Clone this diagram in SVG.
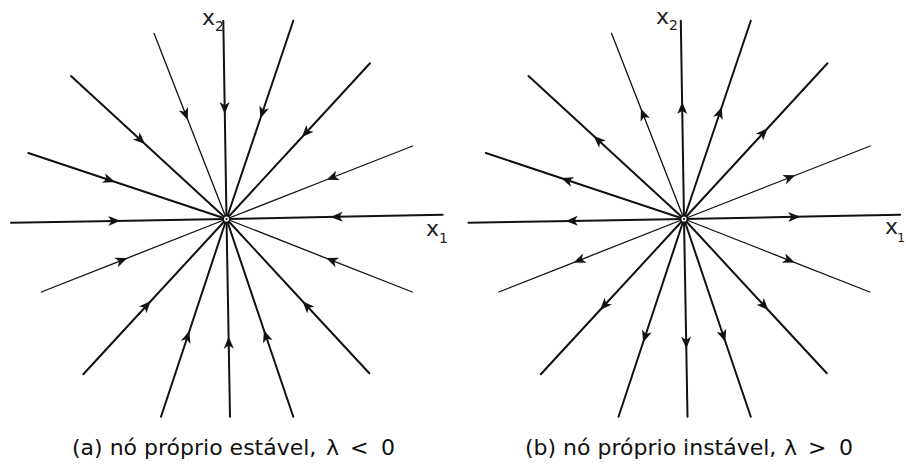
<svg xmlns="http://www.w3.org/2000/svg" width="906" height="465" viewBox="0 0 906 465">
<style>
.tr{fill:none;stroke:#111;stroke-width:2;stroke-linecap:round;marker-mid:url(#ah)}
.tn{stroke-width:1.3}
.ax{font-family:"DejaVu Sans","Liberation Sans",sans-serif;fill:#222}
.cap{font-family:"DejaVu Sans","Liberation Sans",sans-serif;font-size:22px;fill:#111}
.ring{fill:#fff;stroke:#111;stroke-width:1.5}
</style>
<defs>
<marker id="ah" markerUnits="userSpaceOnUse" markerWidth="14" markerHeight="12" refX="6" refY="5" orient="auto" overflow="visible">
<path d="M0,0 L12,5 L0,10 L3.2,5 Z" fill="#111"/>
</marker>
</defs>
<rect width="906" height="465" fill="#fff"/>

<g id="panel-a">
<g id="connectors-a">
<path class="tr" d="M223.3,20.7 L224.7,108 L226.5,219"/>
<path class="tr tn" d="M154,33.3 L185.6,114.3 L226.5,219"/>
<path class="tr" d="M71,76 L140.6,140 L226.5,219"/>
<path class="tr" d="M28.3,153 L109.3,180 L226.5,219"/>
<path class="tr" d="M11,222.7 L114.3,220.9 L226.5,219"/>
<path class="tr tn" d="M41.3,292 L121.7,260.3 L226.5,219"/>
<path class="tr" d="M83.3,374.3 L146.7,305.5 L226.5,219"/>
<path class="tr" d="M161,416.7 L187.5,336.7 L226.5,219"/>
<path class="tr" d="M230,416.7 L228.7,342.7 L226.5,219"/>
<path class="tr" d="M293.3,416.7 L265.9,336 L226.5,219"/>
<path class="tr" d="M369.3,373.3 L306.7,305.7 L226.5,219"/>
<path class="tr tn" d="M412.3,292 L331.7,260.3 L226.5,219"/>
<path class="tr" d="M442.7,214.7 L336.7,216.8 L226.5,219"/>
<path class="tr tn" d="M412.7,146 L332.3,177.5 L226.5,219"/>
<path class="tr" d="M370,63.3 L306,132.7 L226.5,219"/>
<path class="tr" d="M293.3,20.7 L262.3,112.7 L226.5,219"/>
</g>
<g id="node-a">
<circle class="ring" cx="226.5" cy="219" r="3.3"/>
<circle cx="226.5" cy="219" r="1.1" fill="#111"/>
</g>
<g id="labels-a">
<text class="ax" x="202" y="25" font-size="22">x<tspan font-size="14" x="215" y="31">2</tspan></text>
<text class="ax" x="426" y="236" font-size="22">x<tspan font-size="14" x="439" y="243">1</tspan></text>
<text class="cap" y="455"><tspan x="72">(a) nó próprio estável,</tspan><tspan x="326">λ</tspan><tspan x="350">&lt;</tspan><tspan x="381">0</tspan></text>
</g>
</g>

<g id="panel-b">
<g id="connectors-b" transform="translate(457.5,0)">
<path class="tr" d="M226.5,219 L224.7,108 L223.3,20.7"/>
<path class="tr tn" d="M226.5,219 L185.6,114.3 L154,33.3"/>
<path class="tr" d="M226.5,219 L140.6,140 L71,76"/>
<path class="tr" d="M226.5,219 L109.3,180 L28.3,153"/>
<path class="tr" d="M226.5,219 L114.3,220.9 L11,222.7"/>
<path class="tr tn" d="M226.5,219 L121.7,260.3 L41.3,292"/>
<path class="tr" d="M226.5,219 L146.7,305.5 L83.3,374.3"/>
<path class="tr" d="M226.5,219 L187.5,336.7 L161,416.7"/>
<path class="tr" d="M226.5,219 L228.7,342.7 L230,416.7"/>
<path class="tr" d="M226.5,219 L265.9,336 L293.3,416.7"/>
<path class="tr" d="M226.5,219 L306.7,305.7 L369.3,373.3"/>
<path class="tr tn" d="M226.5,219 L331.7,260.3 L412.3,292"/>
<path class="tr" d="M226.5,219 L336.7,216.8 L442.7,214.7"/>
<path class="tr tn" d="M226.5,219 L332.3,177.5 L412.7,146"/>
<path class="tr" d="M226.5,219 L306,132.7 L370,63.3"/>
<path class="tr" d="M226.5,219 L262.3,112.7 L293.3,20.7"/>
</g>
<g id="node-b">
<circle class="ring" cx="684" cy="219" r="3.3"/>
<circle cx="684" cy="219" r="1.1" fill="#111"/>
</g>
<g id="labels-b">
<text class="ax" x="656" y="24" font-size="22">x<tspan font-size="14" x="669" y="30">2</tspan></text>
<text class="ax" x="885" y="234" font-size="22">x<tspan font-size="13" x="897" y="242">1</tspan></text>
<text class="cap" y="455"><tspan x="525">(b) nó próprio instável,</tspan><tspan x="784">λ</tspan><tspan x="808">&gt;</tspan><tspan x="839">0</tspan></text>
</g>
</g>
</svg>
